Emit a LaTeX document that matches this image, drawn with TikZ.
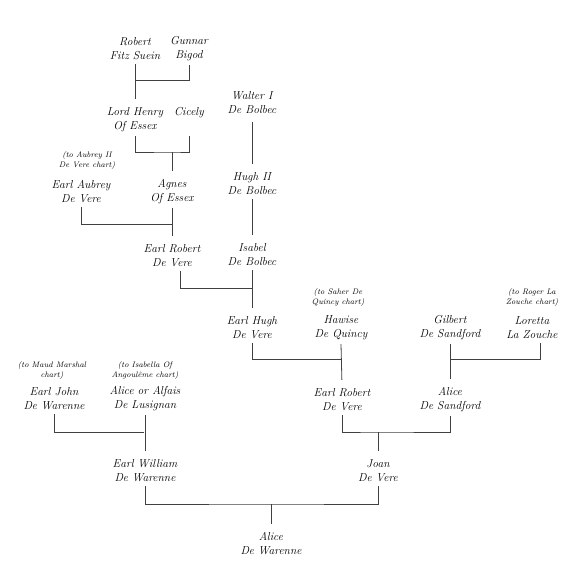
\documentclass[tikz,border=0pt]{standalone}
\begin{document}
\begin{tikzpicture}[x=1pt,y=-1pt,
  person/.style={font=\fontsize{11.5}{14}\selectfont\itshape, align=center, inner sep=0pt, outer sep=4pt},
  note/.style={font=\fontsize{8}{10}\selectfont\itshape, align=center, inner sep=0pt},
  link/.style={draw=black!75, line width=0.8pt},
  tochild/.style={shorten >=5pt}]
\useasboundingbox (0,0) rectangle (576,576);
\fill[white] (0,0) rectangle (576,576);

% people
\node[person] (robert)    at (135,49)  {Robert\\Fitz Suein};
\node[person] (gunnar)    at (189,49)  {Gunnar\\Bigod};
\node[person] (lordhenry) at (135,120) {Lord Henry\\Of Essex};
\node[person] (cicely)    at (189,120) {Cicely\\\phantom{Of}};
\node[person] (walter)    at (252,103) {Walter I\\De Bolbec};
\node[note]   (aubreynote) at (87,160) {(to Aubrey II\\De Vere chart)};
\node[person] (aubrey)    at (81,192)  {Earl Aubrey\\De Vere};
\node[person] (agnes)     at (172,192) {Agnes\\Of Essex};
\node[person] (hugh2)     at (252,184) {Hugh II\\De Bolbec};
\node[person] (earlrobert) at (172,256) {Earl Robert\\De Vere};
\node[person] (isabel)    at (252,255) {Isabel\\De Bolbec};
\node[person] (earlhugh)  at (252,328) {Earl Hugh\\De Vere};
\node[note]   (saher)     at (338,297) {(to Saher De\\Quincy chart)};
\node[person] (hawise)    at (341,328) {Hawise\\De Quincy};
\node[person] (gilbert)   at (450,328) {Gilbert\\De Sandford};
\node[note]   (roger)     at (532,297) {(to Roger La\\Zouche chart)};
\node[person] (loretta)   at (532,328) {Loretta\\La Zouche};
\node[note]   (maud)      at (52,370)  {(to Maud Marshal\\chart)};
\node[note]   (isabella)  at (145,370) {(to Isabella Of\\Angoul\^eme chart)};
\node[person] (earljohn)  at (54,399)  {Earl John\\De Warenne};
\node[person] (alicelus)  at (145,399) {Alice or Alfais\\De Lusignan};
\node[person] (robert2)   at (342,400) {Earl Robert\\De Vere};
\node[person] (alicesand) at (450,400) {Alice\\De Sandford};
\node[person] (william)   at (145,471) {Earl William\\De Warenne};
\node[person] (joan)      at (378,471) {Joan\\De Vere};
\node[person] (alicewar)  at (271,544) {Alice\\De Warenne};

% junctions
\coordinate (j1) at (135,80);
\coordinate (j2) at (172,152);
\coordinate (j3) at (172,224);
\coordinate (j4) at (252,288);
\coordinate (j5) at (342,359);
\coordinate (j6) at (450,359);
\coordinate (j7) at (378,432);
\coordinate (j8) at (144,432);
\coordinate (j9) at (271,504);

% connectors
\draw[link,tochild] (robert.south) -- (lordhenry.north);
\draw[link] (gunnar.south) |- (j1);
\draw[link] (lordhenry.south) |- (j2) -| (cicely.south);
\draw[link,tochild] (j2) -- (agnes.north);
\draw[link] (aubrey.south) |- (j3);
\draw[link,tochild] (agnes.south) -- (earlrobert.north);
\draw[link,tochild,shorten <=4pt] (walter.south) -- (hugh2.north);
\draw[link,tochild] (hugh2.south) -- (isabel.north);
\draw[link] ([xshift=8pt]earlrobert.south) |- (j4);
\draw[link,tochild] (isabel.south) -- (earlhugh.north);
\draw[link] (earlhugh.south) |- (j5);
\draw[link,tochild] (hawise.south) -- (robert2.north);
\draw[link] ([xshift=8pt]loretta.south) |- (j6);
\draw[link,tochild] (gilbert.south) -- (alicesand.north);
\draw[link] (robert2.south) |- (j7) -| (alicesand.south);
\draw[link,tochild] (j7) -- (joan.north);
\draw[link] (earljohn.south) |- (j8);
\draw[link,tochild] (alicelus.south) -- (william.north);
\draw[link] (william.south) |- (j9) -| (joan.south);
\draw[link,tochild] (j9) -- (alicewar.north);
\end{tikzpicture}
\end{document}
